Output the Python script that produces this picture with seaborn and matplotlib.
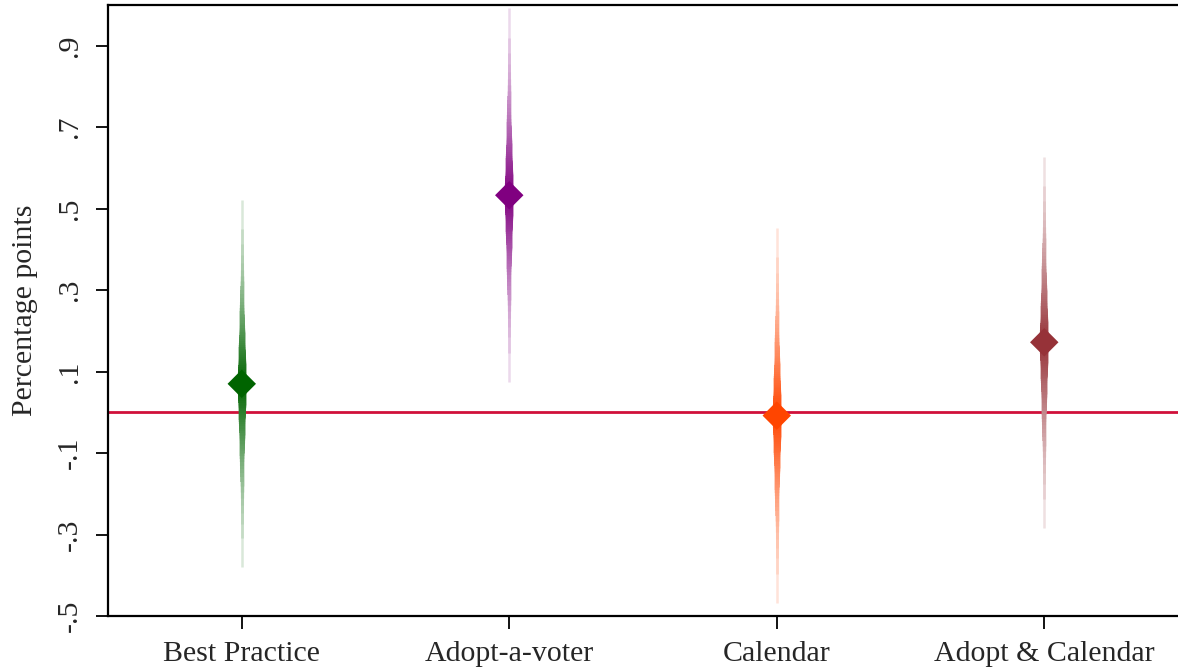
import numpy as np
import pandas as pd
import seaborn as sns
import matplotlib.pyplot as plt
from matplotlib.colors import to_rgb
from statistics import NormalDist

# estimates (point estimate and standard error)
labels = ["Best Practice", "Adopt-a-voter", "Calendar", "Adopt & Calendar"]
coefs = [0.070, 0.533, -0.008, 0.172]
ses = [0.175, 0.178, 0.179, 0.177]
colors = ["#006400", "#800080", "#FF4500", "#963238"]

yticks = [-0.5, -0.3, -0.1, 0.1, 0.3, 0.5, 0.7, 0.9]
ytick_labels = ["-.5", "-.3", "-.1", ".1", ".3", ".5", ".7", ".9"]

df = pd.DataFrame({"label": labels, "coef": coefs, "se": ses,
                   "pos": np.arange(1, len(labels) + 1)})

sns.set_theme(style="white")
plt.rcParams["font.family"] = ["Liberation Serif", "DejaVu Serif"]

fig = plt.figure(figsize=(11.78, 6.71), dpi=100)
ax = fig.add_axes([0.0917, 0.082, 0.9083, 0.9105])

# smoothed confidence intervals: outer levels thin and pale, inner thick and dark
levels = np.linspace(99, 1, 50)
nd = NormalDist()

for i, row in df.iterrows():
    base = np.array(to_rgb(colors[i]))
    for k, lv in enumerate(levels):
        t = k / (len(levels) - 1)          # 0 outer -> 1 inner
        inten = 0.15 + 0.85 * t ** 0.6
        col = base * inten + np.ones(3) * (1 - inten)
        lw = 1.8 + 4.6 * t
        z = nd.inv_cdf(0.5 + lv / 200)
        ax.plot([row["pos"], row["pos"]],
                [row["coef"] - z * row["se"], row["coef"] + z * row["se"]],
                color=col, lw=lw, solid_capstyle="butt", zorder=2)

ax.axhline(0, color="#D0103A", lw=2, zorder=1)

sns.scatterplot(data=df, x="pos", y="coef", hue="label", palette=colors,
                marker="D", s=210, edgecolor="none", legend=False, ax=ax, zorder=3)

ax.set_xlim(0.5, 4.5)
ax.set_ylim(-0.5, 1.0)
ax.set_xticks(df["pos"])
ax.set_xticklabels(labels, fontsize=21.5)
ax.set_yticks(yticks)
ax.set_yticklabels(ytick_labels, fontsize=21.5, rotation=90, va="center")
ax.set_xlabel("")
ax.set_ylabel("Percentage points", fontsize=21.5, labelpad=14)
ax.tick_params(axis="both", direction="out", length=9, width=1.3, color="black",
               left=True, bottom=True, pad=9)

for s in ["left", "bottom", "top"]:
    ax.spines[s].set_visible(True)
    ax.spines[s].set_color("black")
    ax.spines[s].set_linewidth(1.6)
ax.spines["right"].set_visible(False)

fig.savefig("out.png", dpi=100)
